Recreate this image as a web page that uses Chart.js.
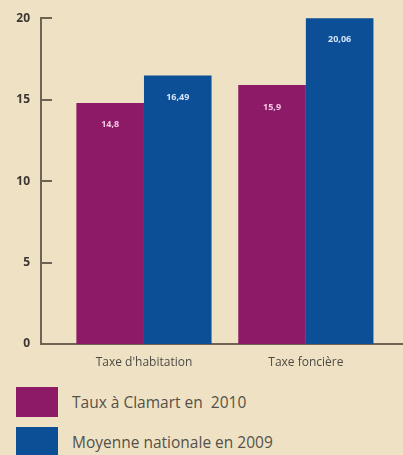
<!DOCTYPE html>
<html lang="fr">
<head>
    <meta charset="UTF-8">
    <title>Taux d'imposition</title>
    <script src="https://cdn.jsdelivr.net/npm/chart.js"></script>
    <style>
        html, body {
            margin: 0;
            padding: 0;
            background-color: #efe2c4;
            overflow: hidden;
        }
        .wrap {
            position: relative;
            width: 403px;
            height: 455px;
        }
        #chart-box {
            position: absolute;
            left: 0;
            top: 0;
            width: 403px;
            height: 375px;
        }
        #legend {
            position: absolute;
            left: 16px;
            top: 387px;
            font-family: "Open Sans", sans-serif;
            font-size: 15.5px;
            color: #555049;
        }
        .legend-item {
            display: flex;
            align-items: center;
            height: 30px;
            margin-bottom: 10px;
        }
        .legend-box {
            width: 42px;
            height: 30px;
            margin-right: 14px;
        }
    </style>
</head>
<body>
<div class="wrap">
    <div id="chart-box"><canvas id="taxChart" width="403" height="375"></canvas></div>
    <div id="legend"></div>
</div>

<script>
    // data
    const categories = ["Taxe d'habitation", "Taxe foncière"];
    const clamart2010 = [14.8, 15.9];
    const national2009 = [16.49, 20.06];
    const seriesLabels = ["Taux à Clamart en  2010", "Moyenne nationale en 2009"];
    const yTicks = [0, 5, 10, 15, 20];

    const purple = '#8c1a66';
    const blue = '#0c4f96';
    const axisColor = '#6e6454';

    // bars sit on a linear index axis so the groups can be spaced like the original
    function toPoints(values) {
        return values.map((v, i) => ({ x: i, y: v }));
    }

    // short tick marks drawn inside the plot, on the right of the y axis
    const innerTicks = {
        id: 'innerTicks',
        afterDraw(chart) {
            const ctx = chart.ctx;
            const y = chart.scales.y;
            const left = chart.chartArea.left;
            ctx.save();
            ctx.strokeStyle = axisColor;
            ctx.lineWidth = 2;
            y.ticks.forEach(t => {
                if (t.value === 0) return;
                const py = Math.round(y.getPixelForValue(t.value));
                ctx.beginPath();
                ctx.moveTo(left, py);
                ctx.lineTo(left + 11, py);
                ctx.stroke();
            });
            ctx.restore();
        }
    };

    // value written near the top of each bar
    const barValues = {
        id: 'barValues',
        afterDatasetsDraw(chart) {
            const ctx = chart.ctx;
            ctx.save();
            ctx.font = 'bold 9px "Open Sans", sans-serif';
            ctx.textAlign = 'center';
            ctx.textBaseline = 'middle';
            chart.data.datasets.forEach((ds, di) => {
                const meta = chart.getDatasetMeta(di);
                ctx.fillStyle = di === 0 ? '#f3c6e4' : '#d3e3f7';
                meta.data.forEach((bar, i) => {
                    const txt = String(ds.data[i].y).replace('.', ',');
                    ctx.fillText(txt, bar.x, bar.y + 22);
                });
            });
            ctx.restore();
        }
    };

    const ctx = document.getElementById('taxChart').getContext('2d');
    const taxChart = new Chart(ctx, {
        type: 'bar',
        data: {
            datasets: [{
                label: seriesLabels[0],
                data: toPoints(clamart2010),
                backgroundColor: purple
            }, {
                label: seriesLabels[1],
                data: toPoints(national2009),
                backgroundColor: blue
            }]
        },
        options: {
            responsive: false,
            animation: false,
            layout: { padding: { top: 18, right: 0, bottom: 0, left: 0 } },
            barPercentage: 1.0,
            categoryPercentage: 0.835,
            plugins: {
                legend: { display: false },
                tooltip: { enabled: false }
            },
            scales: {
                x: {
                    type: 'linear',
                    offset: false,
                    min: -0.636,
                    max: 1.6,
                    afterBuildTicks: s => { s.ticks = categories.map((c, i) => ({ value: i })); },
                    afterFit: s => { s.height = 31; },
                    grid: { display: false, drawTicks: false },
                    border: { display: true, color: axisColor, width: 2 },
                    ticks: {
                        padding: 11,
                        color: '#4d4a45',
                        font: { family: 'Open Sans', size: 12 },
                        callback: v => categories[v]
                    }
                },
                y: {
                    min: 0,
                    max: 20,
                    afterBuildTicks: s => { s.ticks = yTicks.map(v => ({ value: v })); },
                    afterFit: s => { s.width = 41; },
                    grid: { display: false, drawTicks: false },
                    border: { display: true, color: axisColor, width: 2 },
                    ticks: {
                        padding: 11,
                        color: '#3b3631',
                        font: { family: 'Open Sans', size: 12, weight: 'bold' }
                    }
                }
            }
        },
        plugins: [innerTicks, barValues]
    });

    // legend built from the datasets
    const legend = document.getElementById('legend');
    taxChart.data.datasets.forEach(ds => {
        const item = document.createElement('div');
        item.className = 'legend-item';
        const box = document.createElement('div');
        box.className = 'legend-box';
        box.style.backgroundColor = ds.backgroundColor;
        const label = document.createElement('span');
        label.textContent = ds.label;
        label.style.whiteSpace = 'pre';
        item.appendChild(box);
        item.appendChild(label);
        legend.appendChild(item);
    });
</script>
</body>
</html>
